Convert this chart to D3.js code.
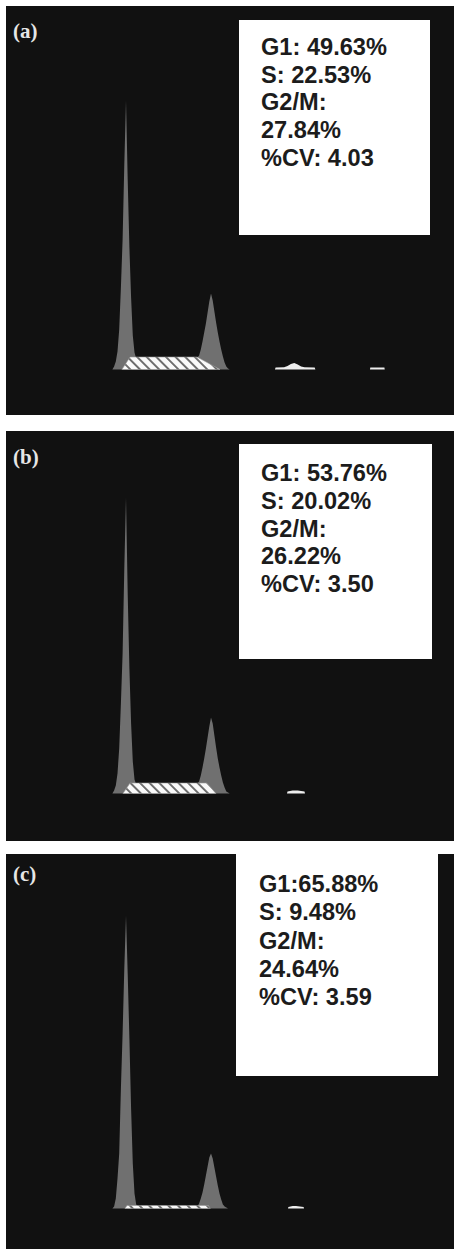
<!DOCTYPE html>
<html>
<head>
<meta charset="utf-8">
<script src="https://cdn.jsdelivr.net/npm/d3@7"></script>
<style>
  body { margin: 0; background: #fff; }
  svg { display: block; }
</style>
</head>
<body>
<div id="plot"></div>
<script>
// Panel labels and the ModFit style result text
const panelLabels = ["(a)", "(b)", "(c)"];
const statsA = ["G1: 49.63%", "S: 22.53%", "G2/M:", "27.84%", "%CV: 4.03"];
const statsB = ["G1: 53.76%", "S: 20.02%", "G2/M:", "26.22%", "%CV: 3.50"];
const statsC = ["G1:65.88%", "S: 9.48%", "G2/M:", "24.64%", "%CV: 3.59"];

// DNA histogram: channel numbers and counts
const histChannels = [42, 43, 44, 45, 46, 47, 48, 49, 50, 51, 52, 53, 54, 55, 56, 57,
  62, 68, 74, 80, 86,
  91, 92, 93, 94, 95, 96, 97, 98, 99, 100, 101, 102, 103, 104, 105, 106, 107, 108, 109, 110, 111];
const countsA = [0, 3, 8, 18, 40, 82, 130, 205, 269, 190, 122, 72, 34, 17, 11, 10,
  10, 10, 11, 11, 11,
  11, 12, 14, 20, 28, 37, 46, 57, 68, 76, 69, 58, 47, 37, 28, 20, 13, 7, 3, 1, 0];
const countsB = [0, 3, 8, 20, 45, 90, 140, 225, 296, 200, 125, 70, 32, 14, 9, 8,
  8, 8, 8, 9, 9,
  9, 10, 12, 18, 26, 35, 45, 56, 67, 76, 70, 58, 46, 35, 26, 18, 11, 6, 2, 1, 0];
const countsC = [0, 2, 10, 30, 55, 120, 175, 240, 293, 235, 170, 100, 45, 15, 4, 2,
  2, 2, 2, 2, 2,
  1, 2, 5, 10, 16, 24, 33, 42, 51, 55, 50, 41, 32, 23, 15, 9, 4, 2, 1, 0, 0];

// S-phase model (hatched), [channel, count]
const sModelA = [[47.6, 0], [52.4, 12.5], [91.8, 12.5], [105.3, 0]];
const sModelB = [[48.2, 0], [52.4, 10.5], [97.6, 10.5], [102.9, 0]];
const sModelC = [[49.4, 0], [50.6, 3], [98.4, 3], [99.6, 0]];

// aggregates / debris model (white), [channel, count]
const debrisA = [
  [[137.6, 0], [138, 2], [143, 2.2], [145, 3.5], [147, 5.5], [149, 6.5], [151, 5], [153, 3], [155, 2.2], [161, 2], [161.4, 0]],
  [[193.5, 0], [193.7, 2], [202, 2], [202.2, 0]]
];
const debrisB = [
  [[144.7, 0], [145, 2], [148, 3], [151, 3], [155, 2], [155.3, 0]]
];
const debrisC = [
  [[145.3, 0], [145.5, 1.5], [148, 2.5], [150, 2.5], [154.5, 1.5], [154.7, 0]]
];

// layout of the three stacked panels
const panels = [
  { top: 6, bottom: 415, base: 369.5, box: [239, 20, 430, 235], textX: 261, textY: 55, lineH: 27.7, labelY: 38,
    counts: countsA, sModel: sModelA, debris: debrisA, stats: statsA },
  { top: 431, bottom: 841, base: 793.5, box: [239, 444, 432, 659], textX: 261, textY: 481, lineH: 27.8, labelY: 464,
    counts: countsB, sModel: sModelB, debris: debrisB, stats: statsB },
  { top: 854, bottom: 1249, base: 1208.5, box: [236, 854, 438, 1076], textX: 259, textY: 892, lineH: 28.3, labelY: 881,
    counts: countsC, sModel: sModelC, debris: debrisC, stats: statsC }
];

const svg = d3.select("#plot")
  .append("svg")
  .attr("width", 454)
  .attr("height", 1249);

// hatch for the S-phase region
const hatch = svg.append("defs").append("pattern")
  .attr("id", "hatch")
  .attr("patternUnits", "userSpaceOnUse")
  .attr("width", 6.8)
  .attr("height", 6.8)
  .attr("patternTransform", "rotate(-45)");
hatch.append("rect").attr("width", 6.8).attr("height", 6.8).attr("fill", "#fafafa");
hatch.append("rect").attr("width", 1.9).attr("height", 6.8).attr("fill", "#6a6a6a");

// channel axis shared by all panels
const x = d3.scaleLinear().domain([0, 240]).range([41, 41 + 240 * 1.7]);

panels.forEach((p, i) => {
  const g = svg.append("g");

  g.append("rect")
    .attr("x", 6)
    .attr("y", p.top)
    .attr("width", 448)
    .attr("height", p.bottom - p.top)
    .attr("fill", "#111111");

  const y = d3.scaleLinear().domain([0, 300]).range([p.base, p.base - 300]);

  const area = d3.area()
    .x(d => x(d[0]))
    .y0(y(0))
    .y1(d => y(d[1]));

  // measured histogram
  g.append("path")
    .datum(d3.zip(histChannels, p.counts))
    .attr("d", area)
    .attr("fill", "#707070");

  // S-phase fit
  g.append("path")
    .datum(p.sModel)
    .attr("d", area)
    .attr("fill", "url(#hatch)")
    .attr("stroke", "#9a9a9a")
    .attr("stroke-width", 0.6);

  // debris / aggregates
  g.selectAll(".debris")
    .data(p.debris)
    .enter()
    .append("path")
    .attr("d", area)
    .attr("fill", "#eeeeee");

  g.append("text")
    .attr("x", 13)
    .attr("y", p.labelY)
    .attr("fill", "#e6e6e6")
    .style("font-family", "'Liberation Serif', 'DejaVu Serif', serif")
    .style("font-weight", "bold")
    .style("font-size", "21px")
    .text(panelLabels[i]);

  const [bx0, by0, bx1, by1] = p.box;
  g.append("rect")
    .attr("x", bx0)
    .attr("y", by0)
    .attr("width", bx1 - bx0)
    .attr("height", by1 - by0)
    .attr("fill", "#ffffff");

  g.selectAll(".stat")
    .data(p.stats)
    .enter()
    .append("text")
    .attr("x", p.textX)
    .attr("y", (d, k) => p.textY + k * p.lineH)
    .attr("fill", "#1c1c1c")
    .style("font-family", "'Liberation Sans', Arial, sans-serif")
    .style("font-weight", "bold")
    .style("font-size", "23.6px")
    .text(d => d);
});
</script>
</body>
</html>
